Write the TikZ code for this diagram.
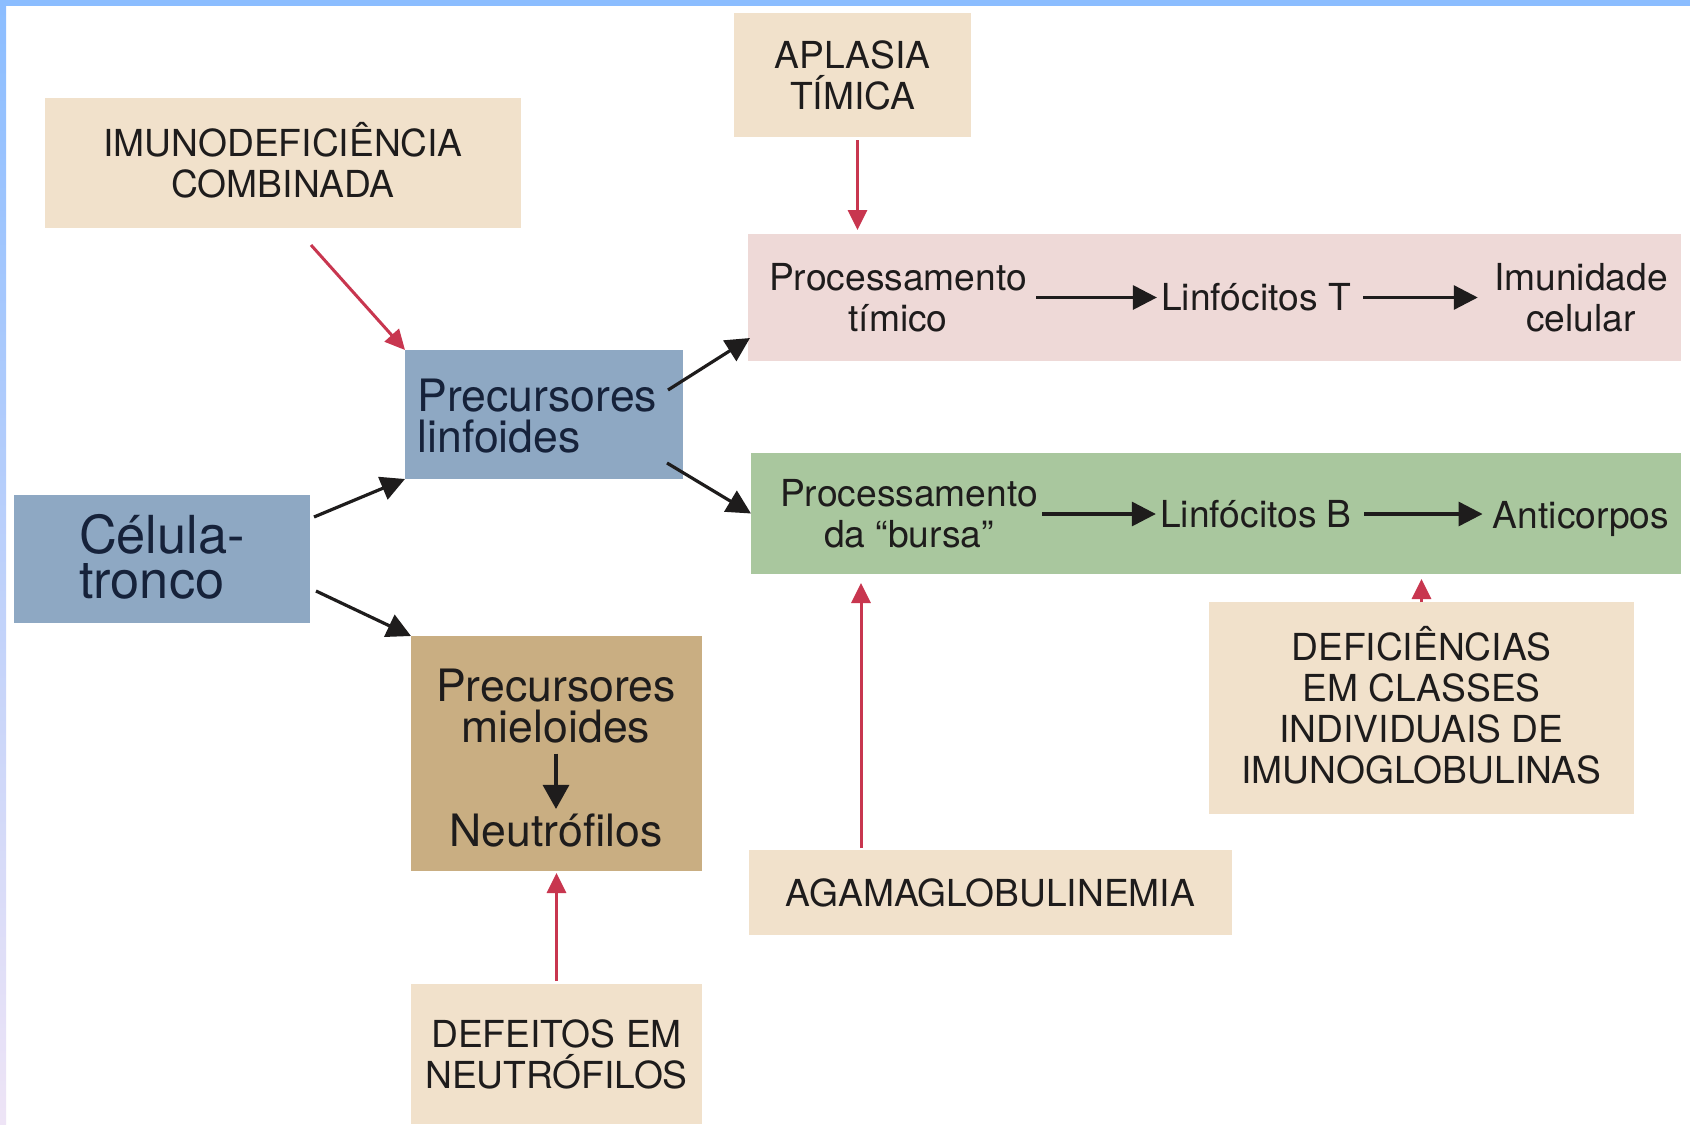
\documentclass[tikz,border=0pt]{standalone}
\usepackage{fontspec}
\setmainfont{TeX Gyre Heros}
\usetikzlibrary{arrows.meta,calc}
\definecolor{beige}{HTML}{F1E1CB}
\definecolor{pinkbox}{HTML}{EED9D7}
\definecolor{bluebox}{HTML}{8EA8C3}
\definecolor{greenbox}{HTML}{A9C79E}
\definecolor{tanbox}{HTML}{C9AE82}
\definecolor{redarr}{HTML}{C8364F}
\definecolor{frameblue}{HTML}{8BBDFF}
\definecolor{framelav}{HTML}{EEE4F6}
\definecolor{navy}{HTML}{16223A}
\definecolor{ink}{HTML}{1E1C1C}
\begin{document}
\begin{tikzpicture}[x=0.5pt,y=-0.5pt,
  panel/.style={rectangle, inner sep=0pt, outer sep=0pt},
  box/.style={rectangle, inner sep=0pt, outer sep=0pt, align=center, text=ink, font=\fontsize{18.6}{20.5}\selectfont},
  lbl/.style={align=center, inner sep=2pt, text=ink, font=\fontsize{18.6}{20.5}\selectfont},
  biglbl/.style={align=left, inner sep=2pt, text=navy, font=\fontsize{22.3}{20.5}\selectfont},
  blk/.style={draw=ink, line width=1.6pt, -{Triangle[length=12pt,width=12pt]}},
  redarrow/.style={draw=redarr, line width=1.5pt, -{Triangle[length=10pt,width=9.5pt]}}
]
\useasboundingbox (0,0) rectangle (1690,1124);
\fill[white] (0,0) rectangle (1690,1124);
\fill[frameblue] (0,0) rectangle (1690,6);
\shade[top color=frameblue, bottom color=framelav] (0,0) rectangle (6,1124);

% disorder boxes
\node[panel, fill=beige, minimum width=238pt, minimum height=65pt] (imuno) at (283,163) {};
\node[lbl] (imunoT) at (283,160) {IMUNODEFICIÊNCIA\\COMBINADA};
\node[box, fill=beige, minimum width=118.5pt, minimum height=62pt] (aplasia) at (852.5,75) {APLASIA\\TÍMICA};
\node[box, fill=beige, minimum width=145.5pt, minimum height=70pt] (defeitos) at (556.5,1054) {DEFEITOS EM\\NEUTRÓFILOS};
\node[box, fill=beige, minimum width=241.5pt, minimum height=42.5pt] (agama) at (990.5,892.5) {AGAMAGLOBULINEMIA};
\node[panel, fill=beige, minimum width=212.5pt, minimum height=106pt] (defic) at (1421.5,708) {};
\node[lbl] (deficT) at (1421.5,705) {DEFICIÊNCIAS\\EM CLASSES\\INDIVIDUAIS DE\\IMUNOGLOBULINAS};

% cell boxes
\node[panel, fill=bluebox, minimum width=148pt, minimum height=64pt] (celula) at (162,559) {};
\node[biglbl, font=\fontsize{26.2}{22.5}\selectfont] (celulaT) at (162,557) {Célula-\\tronco};
\node[panel, fill=bluebox, minimum width=139pt, minimum height=64.5pt] (linf) at (544,414.5) {};
\node[biglbl, anchor=west] (linfT) at (413,416) {Precursores\\linfoides};
\node[panel, fill=tanbox, minimum width=145.5pt, minimum height=117.5pt] (mielo) at (556.5,753.5) {};
\node[lbl, font=\fontsize{22.3}{20.5}\selectfont] (mieloT) at (556,706) {Precursores\\mieloides};
\node[lbl, font=\fontsize{22.3}{20.5}\selectfont] (neut) at (556,830) {Neutrófilos};

% processing bands
\node[panel, fill=pinkbox, minimum width=466.5pt, minimum height=63.5pt] (pink) at (1214.5,297.5) {};
\node[lbl] (procT) at (898,297.5) {Processamento\\tímico};
\node[lbl] (linfTc) at (1256,297.5) {Linfócitos T};
\node[lbl] (imun) at (1581,297.5) {Imunidade\\celular};
\node[panel, fill=greenbox, minimum width=465pt, minimum height=60.5pt] (green) at (1216,513.5) {};
\node[lbl] (procB) at (909,514) {Processamento\\da “bursa”};
\node[lbl] (linfB) at (1256,514) {Linfócitos B};
\node[lbl, text depth=0pt] (antic) at (1581,515) {Anticorpos};

% black connectors
\draw[blk, shorten <=2.5pt] (procT) -- (linfTc);
\draw[blk, shorten <=4pt, shorten >=6pt] (linfTc) -- (imun);
\draw[blk] (procB) -- (procB -| linfB.west);
\draw[blk, shorten <=4pt, shorten >=3pt] (linfB) -- (linfB -| antic.west);
\draw[blk, shorten <=3pt, -{Triangle[length=12pt,width=13pt]}] (mieloT) -- (neut);
\draw[blk] ($(celula.north east)+(4,22)$) -- (linf.south west);
\draw[blk] ($(celula.south east)+(6,-32)$) -- (mielo.north west);
\draw[blk] ($(linf.north east)+(-15,40)$) -- ($(pink.south west)+(2,-23)$);
\draw[blk] ($(linf.south east)+(-16,-16)$) -- (green.west);

% red connectors
\draw[redarrow] ($(imuno.south)+(28,17)$) -- (linf.north west);
\coordinate (aplA) at ($(aplasia.south)+(5,3)$);
\draw[redarrow, shorten >=2pt] (aplA) -- (aplA |- pink.north);
\coordinate (agA) at ($(agama.north west)+(112,-2)$);
\draw[redarrow, shorten >=4.5pt] (agA) -- (agA |- green.south);
\draw[redarrow, shorten <=1.5pt, shorten >=1pt] (defeitos.north) -- (mielo.south);
\draw[redarrow, shorten >=2.5pt] (defic.north) -- (defic.north |- green.south);
\end{tikzpicture}
\end{document}
